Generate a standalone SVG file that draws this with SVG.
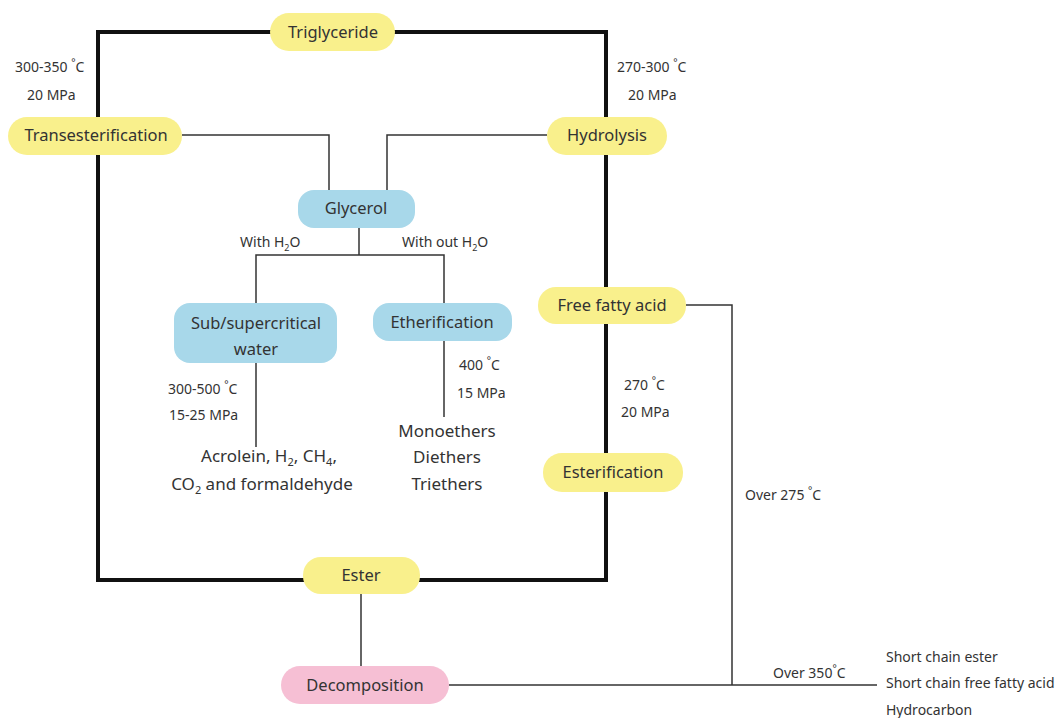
<svg xmlns="http://www.w3.org/2000/svg" width="1064" height="718" viewBox="0 0 1064 718">
<style>
.y{fill:#f9f08c}
.b{fill:#a8d8ea}
.p{fill:#f6bfd4}
.n{font-family:"Noto Sans","Open Sans",sans-serif;font-size:16.5px;fill:#333;text-anchor:middle}
.l{font-family:"Noto Sans","Open Sans",sans-serif;font-size:14px;fill:#333}
.t{font-family:"Noto Sans","Open Sans",sans-serif;font-size:17px;fill:#333;text-anchor:middle}
.k{fill:none;stroke:#111;stroke-width:4}
.s{fill:none;stroke:#333;stroke-width:1.5}
</style>
<rect width="1064" height="718" fill="#fff"/>
<g id="connectors">
<path class="k" d="M98 32H606V580H98Z"/>
<path class="s" d="M182 135H329V190"/>
<path class="s" d="M547 135H387V190"/>
<path class="s" d="M359 228V255M256 303V255H444V303"/>
<path class="s" d="M256 363V447"/>
<path class="s" d="M444 341V417"/>
<path class="s" d="M686 305H732V685"/>
<path class="s" d="M361 594V666"/>
<path class="s" d="M449 685H877"/>
</g>
<g id="triglyceride"><rect class="y" x="270" y="13" width="125" height="38" rx="19"/><text class="n" x="333" y="38">Triglyceride</text></g>
<g id="transesterification"><rect class="y" x="8" y="117" width="174" height="38" rx="19"/><text class="n" x="96" y="141">Transesterification</text></g>
<g id="hydrolysis"><rect class="y" x="547" y="117" width="120" height="38" rx="19"/><text class="n" x="607" y="141">Hydrolysis</text></g>
<g id="glycerol"><rect class="b" x="298" y="190" width="117" height="38" rx="16"/><text class="n" x="356" y="214">Glycerol</text></g>
<g id="subcritical"><rect class="b" x="174" y="303" width="163" height="60" rx="16"/><text class="n" x="256" y="329">Sub/supercritical</text><text class="n" x="256" y="355">water</text></g>
<g id="etherification"><rect class="b" x="373" y="303" width="139" height="38" rx="16"/><text class="n" x="442" y="328">Etherification</text></g>
<g id="ffa"><rect class="y" x="538" y="287" width="148" height="37" rx="18"/><text class="n" x="612" y="311">Free fatty acid</text></g>
<g id="esterification"><rect class="y" x="543" y="453" width="140" height="39" rx="19"/><text class="n" x="613" y="478">Esterification</text></g>
<g id="ester"><rect class="y" x="303" y="557" width="117" height="37" rx="18"/><text class="n" x="361" y="581">Ester</text></g>
<g id="decomposition"><rect class="p" x="281" y="666" width="168" height="38" rx="19"/><text class="n" x="365" y="691">Decomposition</text></g>
<g id="labels">
<text class="l" x="15" y="72">300-350 <tspan dy="-6" font-size="10">°</tspan><tspan dy="6">C</tspan></text>
<text class="l" x="27" y="100">20 MPa</text>
<text class="l" x="617" y="72">270-300 <tspan dy="-6" font-size="10">°</tspan><tspan dy="6">C</tspan></text>
<text class="l" x="628" y="100">20 MPa</text>
<text class="l" x="240" y="247">With H<tspan dy="4" font-size="9">2</tspan><tspan dy="-4">O</tspan></text>
<text class="l" x="402" y="247">With out H<tspan dy="4" font-size="9">2</tspan><tspan dy="-4">O</tspan></text>
<text class="l" x="168" y="394">300-500 <tspan dy="-6" font-size="10">°</tspan><tspan dy="6">C</tspan></text>
<text class="l" x="169" y="420">15-25 MPa</text>
<text class="l" x="459" y="370">400 <tspan dy="-6" font-size="10">°</tspan><tspan dy="6">C</tspan></text>
<text class="l" x="457" y="398">15 MPa</text>
<text class="l" x="624" y="390">270 <tspan dy="-6" font-size="10">°</tspan><tspan dy="6">C</tspan></text>
<text class="l" x="621" y="417">20 MPa</text>
<text class="l" x="745" y="500">Over 275 <tspan dy="-6" font-size="10">°</tspan><tspan dy="6">C</tspan></text>
<text class="l" x="773" y="678">Over 350<tspan dy="-6" font-size="10">°</tspan><tspan dy="6">C</tspan></text>
<text class="t" x="269" y="462">Acrolein, H<tspan dy="4" font-size="11">2</tspan><tspan dy="-4">, CH</tspan><tspan dy="4" font-size="11">4</tspan><tspan dy="-4">,</tspan></text>
<text class="t" x="262" y="490">CO<tspan dy="4" font-size="11">2</tspan><tspan dy="-4"> and formaldehyde</tspan></text>
<text class="t" x="447" y="437">Monoethers</text>
<text class="t" x="447" y="463">Diethers</text>
<text class="t" x="447" y="490">Triethers</text>
<text class="l" x="886" y="662">Short chain ester</text>
<text class="l" x="886" y="688">Short chain free fatty acid</text>
<text class="l" x="886" y="715">Hydrocarbon</text>
</g>
</svg>
